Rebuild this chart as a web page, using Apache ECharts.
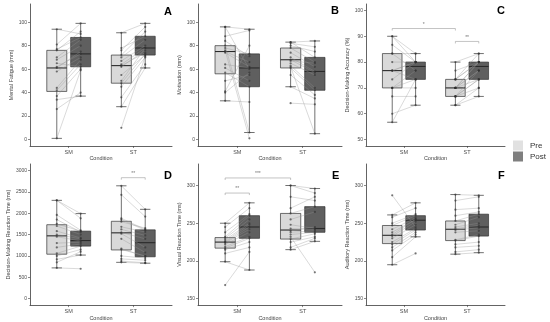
<!DOCTYPE html>
<html><head><meta charset="utf-8">
<script src="https://cdn.jsdelivr.net/npm/echarts@6/dist/echarts.min.js"></script>
<style>html,body{margin:0;padding:0;background:#fff}#c{width:550px;height:322px}</style>
</head><body><div id="c"></div>
<script>
// ---------- data ----------
const conditions = ['SM', 'ST'];
const phases = ['Pre', 'Post'];
const letters = ['A', 'B', 'C', 'D', 'E', 'F'];
const yTitles = ['Mental Fatigue (mm)', 'Motivation (mm)', 'Decision-Making Accuracy (%)',
  'Decision-Making Reaction Time (ms)', 'Visual Reaction Time (ms)', 'Auditory Reaction Time (ms)'];
const yTicksA = [0, 20, 40, 60, 80, 100];
const yTicksB = [0, 20, 40, 60, 80, 100];
const yTicksC = [50, 60, 70, 80, 90, 100];
const yTicksD = [0, 500, 1000, 1500, 2000, 2500, 3000];
const yTicksE = [150, 200, 250, 300];
const yTicksF = [150, 200, 250, 300];
const yLimA = [-5.5, 115.5], yLimB = [-5.5, 115.5], yLimC = [47.5, 102.5];
const yLimD = [-150, 3150], yLimE = [141.5, 328.5], yLimF = [141.5, 328.5];

// box stats [min, q1, median, q3, max]; order: SM Pre, SM Post, ST Pre, ST Post
const boxA = [[1, 41, 61, 76, 94], [37, 62, 73, 87, 99], [28, 48, 63, 72, 91], [61, 72, 78, 88, 99]];
const boxB = [[33, 56, 75, 80, 96], [6, 45, 61, 73, 94], [45, 61, 68, 78, 83], [5, 42, 58, 70, 84]];
const boxC = [[56.7, 70, 76.7, 83.3, 90], [63.3, 73.3, 78.3, 80, 83.3], [63.3, 66.7, 70, 73.3, 80], [66.7, 73.3, 78.3, 80, 83.3]];
const boxD = [[720, 1040, 1470, 1730, 2300], [1020, 1230, 1360, 1580, 1990], [850, 1140, 1540, 1810, 2640], [830, 980, 1310, 1610, 2090]];
const boxE = [[199, 217, 225, 231, 250], [188, 230, 245, 260, 277], [215, 229, 241, 263, 300], [226, 238, 243, 272, 296]];
const boxF = [[195, 223, 234, 247, 261], [232, 241, 254, 260, 277], [209, 227, 242, 253, 288], [211, 233, 245, 262, 287]];

// individual participants (paired pre/post)
const aSmPre = [94, 81, 77, 76, 70, 68, 65, 62, 61, 58, 44, 42, 37, 34, 26, 1];
const aSmPost = [90, 99, 87, 92, 85, 80, 62, 73, 75, 70, 68, 64, 60, 37, 40, 59];
const aStPre = [91, 78, 76, 72, 70, 67, 64, 63, 62, 55, 50, 48, 45, 36, 28, 10];
const aStPost = [99, 88, 96, 92, 85, 80, 78, 74, 76, 72, 78, 73, 70, 64, 61, 71];

const bSmPre = [96, 96, 88, 84, 80, 78, 76, 75, 74, 64, 61, 57, 50, 41, 40, 33];
const bSmPost = [60, 94, 93, 71, 6, 73, 1, 66, 62, 61, 50, 45, 55, 80, 57, 32];
const bStPre = [83, 83, 82, 80, 78, 74, 70, 68, 67, 65, 63, 61, 55, 45, 31, 62];
const bStPost = [84, 70, 79, 75, 66, 62, 58, 57, 65, 55, 44, 42, 38, 35, 30, 5];

const cSmPre = [90, 90, 86.7, 83.3, 83.3, 80, 76.7, 76.7, 76.7, 73.3, 70, 70, 66.7, 60, 56.7, 70];
const cSmPost = [83.3, 80, 80, 83.3, 76.7, 80, 80, 80, 73.3, 80, 73.3, 70, 66.7, 63.3, 73.3, 76.7];
const cStPre = [80, 76.7, 73.3, 73.3, 70, 70, 70, 70, 66.7, 66.7, 66.7, 63.3, 73.3, 70, 66.7, 63.3];
const cStPost = [83.3, 80, 83.3, 80, 80, 76.7, 80, 73.3, 76.7, 73.3, 70, 66.7, 80, 76.7, 73.3, 70];

const dSmPre = [2300, 2300, 1960, 1850, 1750, 1700, 1580, 1500, 1450, 1300, 1200, 1060, 1000, 920, 850, 720];
const dSmPost = [1990, 1880, 1600, 1560, 1580, 1500, 1420, 1400, 1350, 1320, 1280, 1230, 1150, 1020, 1100, 700];
const dStPre = [2640, 2430, 1880, 1850, 1800, 1680, 1620, 1550, 1520, 1400, 1170, 1150, 1000, 930, 880, 850];
const dStPost = [2090, 1920, 1620, 1600, 1650, 1560, 1480, 1400, 1200, 1080, 990, 1000, 950, 900, 840, 830];

const eSmPre = [250, 245, 238, 232, 230, 228, 226, 225, 224, 222, 219, 217, 215, 210, 199, 168];
const eSmPost = [277, 270, 262, 260, 255, 250, 248, 245, 242, 238, 232, 230, 225, 218, 188, 212];
const eStPre = [300, 300, 285, 270, 263, 255, 248, 243, 240, 238, 235, 232, 229, 225, 218, 215];
const eStPost = [296, 290, 280, 285, 272, 265, 243, 242, 245, 240, 238, 185, 236, 232, 230, 226];

const fSmPre = [287, 261, 258, 250, 247, 242, 238, 235, 233, 230, 225, 222, 218, 214, 205, 195];
const fSmPost = [245, 277, 270, 262, 260, 257, 255, 255, 252, 248, 243, 241, 238, 235, 232, 210];
const fStPre = [288, 280, 268, 260, 253, 248, 245, 243, 241, 238, 228, 227, 222, 218, 212, 209];
const fStPost = [287, 285, 270, 265, 262, 258, 250, 247, 244, 240, 235, 233, 225, 220, 215, 211];

// significance brackets: [cond1, phase1, cond2, phase2, y, label]
const brA = [], brB = [], brF = [];
const brC = [[0, 0, 1, 0, 93, '*'], [1, 0, 1, 1, 88, '**']];
const brD = [[1, 0, 1, 1, 2830, '**']];
const brE = [[0, 0, 1, 0, 310, '***'], [0, 0, 0, 1, 290, '**']];

// ---------- layout / style ----------
const FONT = 'Liberation Sans';
const PRE_FILL = '#d9d9d9', POST_FILL = '#5f5f5f', EDGE = '#333333';
const OFF = 0.185, BOXW = 0.31, CAPW = 0.16;
const grids = [
  { left: 30, top: 4, width: 142, height: 142 },
  { left: 198, top: 4, width: 144, height: 142 },
  { left: 366, top: 4, width: 139, height: 142 },
  { left: 30, top: 164, width: 142, height: 142 },
  { left: 198, top: 164, width: 144, height: 142 },
  { left: 366, top: 164, width: 139, height: 142 }
];
const letterPos = [[169, 12], [336, 11.5], [502, 11.5], [169, 176], [337, 176.5], [503, 176]];

const panels = [
  { box: boxA, pts: [[aSmPre, aSmPost], [aStPre, aStPost]], ticks: yTicksA, lim: yLimA, br: brA },
  { box: boxB, pts: [[bSmPre, bSmPost], [bStPre, bStPost]], ticks: yTicksB, lim: yLimB, br: brB },
  { box: boxC, pts: [[cSmPre, cSmPost], [cStPre, cStPost]], ticks: yTicksC, lim: yLimC, br: brC },
  { box: boxD, pts: [[dSmPre, dSmPost], [dStPre, dStPost]], ticks: yTicksD, lim: yLimD, br: brD },
  { box: boxE, pts: [[eSmPre, eSmPost], [eStPre, eStPost]], ticks: yTicksE, lim: yLimE, br: brE },
  { box: boxF, pts: [[fSmPre, fSmPost], [fStPre, fStPost]], ticks: yTicksF, lim: yLimF, br: brF }
];

const xPos = (cond, ph) => cond + 1 + (ph === 0 ? -OFF : OFF);

function boxItem(params, api) {
  const ph = api.value(1);
  const x = xPos(api.value(0), ph);
  const pMin = api.coord([x, api.value(2)]);
  const pQ1 = api.coord([x, api.value(3)]);
  const pMed = api.coord([x, api.value(4)]);
  const pQ3 = api.coord([x, api.value(5)]);
  const pMax = api.coord([x, api.value(6)]);
  const half = api.size([BOXW, 0])[0] / 2;
  const cap = api.size([CAPW, 0])[0] / 2;
  const st = { stroke: EDGE, lineWidth: 0.7 };
  return {
    type: 'group', children: [
      { type: 'line', shape: { x1: pMin[0], y1: pMin[1], x2: pMax[0], y2: pMax[1] }, style: st },
      { type: 'line', shape: { x1: pMin[0] - cap, y1: pMin[1], x2: pMin[0] + cap, y2: pMin[1] }, style: st },
      { type: 'line', shape: { x1: pMax[0] - cap, y1: pMax[1], x2: pMax[0] + cap, y2: pMax[1] }, style: st },
      { type: 'rect', shape: { x: pQ3[0] - half, y: pQ3[1], width: 2 * half, height: pQ1[1] - pQ3[1] },
        style: { fill: ph === 0 ? PRE_FILL : POST_FILL, stroke: EDGE, lineWidth: 0.7 } },
      { type: 'line', shape: { x1: pMed[0] - half, y1: pMed[1], x2: pMed[0] + half, y2: pMed[1] },
        style: { stroke: '#2a2a2a', lineWidth: 1.1 } }
    ]
  };
}
function pairItem(params, api) {
  const c = api.value(0);
  const p1 = api.coord([xPos(c, 0), api.value(1)]);
  const p2 = api.coord([xPos(c, 1), api.value(2)]);
  return { type: 'line', shape: { x1: p1[0], y1: p1[1], x2: p2[0], y2: p2[1] },
    style: { stroke: 'rgba(150,150,150,0.7)', lineWidth: 0.5 } };
}
function makeBracket(list) {
  return function (params, api) {
    const b = list[params.dataIndex];
    const p1 = api.coord([xPos(b[0], b[1]), b[4]]);
    const p2 = api.coord([xPos(b[2], b[3]), b[4]]);
    const st = { stroke: '#9a9a9a', lineWidth: 0.6 };
    return {
      type: 'group', children: [
        { type: 'line', shape: { x1: p1[0], y1: p1[1], x2: p2[0], y2: p2[1] }, style: st },
        { type: 'line', shape: { x1: p1[0], y1: p1[1], x2: p1[0], y2: p1[1] + 2 }, style: st },
        { type: 'line', shape: { x1: p2[0], y1: p2[1], x2: p2[0], y2: p2[1] + 2 }, style: st },
        { type: 'text', style: { text: b[5], x: (p1[0] + p2[0]) / 2, y: p1[1] - 1.5, align: 'center',
          verticalAlign: 'bottom', fontSize: 5, fill: '#777', fontFamily: FONT } }
      ]
    };
  };
}

const xAxes = [], yAxes = [], series = [], graphics = [];
panels.forEach((p, i) => {
  xAxes.push({
    gridIndex: i, type: 'value', min: 0.4, max: 2.6,
    axisLine: { show: true, onZero: false, lineStyle: { color: '#3c3c3c', width: 0.8 } },
    axisTick: { show: true, customValues: [1, 2], length: 2, lineStyle: { color: '#3c3c3c', width: 0.6 } },
    axisLabel: { show: true, customValues: [1, 2], formatter: v => conditions[Math.round(v) - 1],
      fontSize: 5.5, color: '#4d4d4d', margin: 3, fontFamily: FONT },
    splitLine: { show: false },
    name: 'Condition', nameLocation: 'middle', nameGap: 9,
    nameTextStyle: { fontSize: 5.5, color: '#444', fontFamily: FONT }
  });
  yAxes.push({
    gridIndex: i, type: 'value', min: p.lim[0], max: p.lim[1],
    axisLine: { show: true, onZero: false, lineStyle: { color: '#3c3c3c', width: 0.8 } },
    axisTick: { show: true, customValues: p.ticks, length: 2, lineStyle: { color: '#3c3c3c', width: 0.6 } },
    axisLabel: { show: true, customValues: p.ticks, formatter: v => String(v),
      fontSize: 5, color: '#4d4d4d', margin: 3, fontFamily: FONT },
    splitLine: { show: false },
    name: yTitles[i], nameLocation: 'middle', nameRotate: 90, nameGap: 16,
    nameTextStyle: { fontSize: 5.5, color: '#444', fontFamily: FONT }
  });
  const boxData = p.box.map((s, k) => [Math.floor(k / 2), k % 2].concat(s));
  series.push({ type: 'custom', xAxisIndex: i, yAxisIndex: i, renderItem: boxItem,
    encode: { x: 0, y: [2, 6] }, data: boxData, silent: true, z: 2 });
  const pairData = [];
  const ptData = [];
  p.pts.forEach((pair, c) => {
    pair[0].forEach((v, j) => {
      pairData.push([c, v, pair[1][j]]);
      ptData.push([xPos(c, 0), v]);
      ptData.push([xPos(c, 1), pair[1][j]]);
    });
  });
  series.push({ type: 'custom', xAxisIndex: i, yAxisIndex: i, renderItem: pairItem,
    encode: { x: 0, y: [1, 2] }, data: pairData, silent: true, z: 3 });
  series.push({ type: 'scatter', xAxisIndex: i, yAxisIndex: i, data: ptData, symbolSize: 2.2,
    itemStyle: { color: 'rgba(45,45,45,0.8)' }, silent: true, z: 4 });
  if (p.br.length) {
    series.push({ type: 'custom', xAxisIndex: i, yAxisIndex: i, renderItem: makeBracket(p.br),
      data: p.br.map(b => [xPos(b[0], b[1]), b[4]]), silent: true, z: 5 });
  }
  graphics.push({ type: 'text', left: letterPos[i][0] - 5, top: letterPos[i][1] - 6,
    style: { text: letters[i], fontSize: 11, fontWeight: 'bold', fill: '#000', fontFamily: FONT } });
});
// legend-only series
phases.forEach((ph, k) => {
  series.push({ type: 'scatter', name: ph, xAxisIndex: 0, yAxisIndex: 0, data: [],
    itemStyle: { color: k === 0 ? PRE_FILL : POST_FILL } });
});

const chart = echarts.init(document.getElementById('c'), null, { renderer: 'canvas' });
chart.setOption({
  animation: false,
  backgroundColor: '#ffffff',
  grid: grids,
  xAxis: xAxes,
  yAxis: yAxes,
  series: series,
  graphic: graphics,
  legend: {
    data: phases, orient: 'vertical', left: 513, top: 140.5, icon: 'rect',
    itemWidth: 10, itemHeight: 10, itemGap: 1,
    textStyle: { fontSize: 8, color: '#333', fontFamily: FONT, padding: [0, 0, 0, 2] },
    padding: 0, selectedMode: false
  }
});
</script>
</body></html>
